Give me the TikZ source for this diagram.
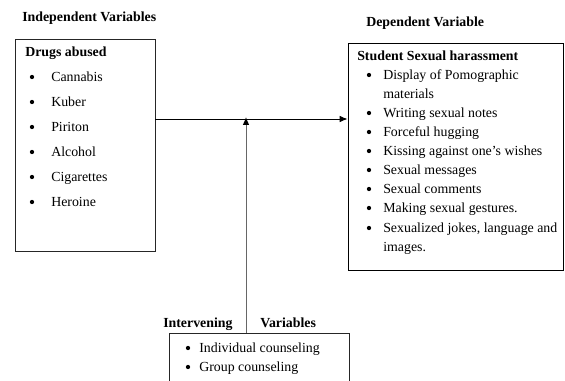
\documentclass[tikz,border=0pt]{standalone}
\usepackage{fontspec}
\setmainfont{Liberation Serif}
\usetikzlibrary{fit,arrows.meta}
\begin{document}
\begin{tikzpicture}[x=0.75pt,y=-0.75pt,
  box/.style={draw=black!85, line width=0.7pt, inner sep=0pt},
  txt/.style={anchor=base west, inner sep=0pt, font=\fontsize{10.4}{12}\selectfont},
  hd/.style={txt, font=\fontsize{10.4}{12}\selectfont\bfseries},
  bul/.style={anchor=center, inner sep=0pt, circle, fill=black, minimum size=3.2pt},
  conn/.style={line width=0.7pt, -{Latex[length=6pt,width=5pt,color=black]}}]
\useasboundingbox (0,0) rectangle (565,381);
% headings
\node[hd] (indep) at (22,22) {Independent Variables};
\node[hd] (dep) at (366,27) {Dependent Variable};
\node[hd] (interv1) at (163,328) {Intervening};
\node[hd] (interv2) at (260,328) {Variables};
% boxes
\node[box, fit={(15,39) (155,251)}] (L) {};
\node[box, draw=black, fit={(348,43) (563,270)}] (R) {};
\node[box, fit={(169,333) (349,390)}] (B) {};
% left box text
\node[hd] (lt) at (25,57) {Drugs abused};
\foreach \t [count=\i] in {Cannabis,Kuber,Piriton,Alcohol,Cigarettes,Heroine}{
  \node[bul] (lb\i) at (32,{52+25*\i}) {};
  \node[txt] (li\i) at (51,{56.5+25*\i}) {\t};
}
% right box text
\node[hd] (rt) at (357,60.5) {Student Sexual harassment};
\node[bul] (rb1) at (369,75) {};
\node[txt] (ri1) at (383,79.5) {Display of Pomographic};
\node[txt] (ri1b) at (383,98.5) {materials};
\node[bul] (rb2) at (369,113) {};
\node[txt] (ri2) at (383,117.5) {Writing sexual notes};
\node[bul] (rb3) at (369,132) {};
\node[txt] (ri3) at (383,136.5) {Forceful hugging};
\node[bul] (rb4) at (369,151) {};
\node[txt] (ri4) at (383,155.5) {Kissing against one’s wishes};
\node[bul] (rb5) at (369,170) {};
\node[txt] (ri5) at (383,174.5) {Sexual messages};
\node[bul] (rb6) at (369,189) {};
\node[txt] (ri6) at (383,193.5) {Sexual comments};
\node[bul] (rb7) at (369,208) {};
\node[txt] (ri7) at (383,212.5) {Making sexual gestures.};
\node[bul] (rb8) at (369,228) {};
\node[txt] (ri8) at (383,232.5) {Sexualized jokes, language and};
\node[txt] (ri8b) at (383,251.5) {images.};
% bottom box text
\node[bul] (bb1) at (188,348) {};
\node[txt] (bi1) at (199,352.5) {Individual counseling};
\node[bul] (bb2) at (188,367) {};
\node[txt] (bi2) at (199,371.5) {Group counseling};
% connectors
\coordinate (j) at (246,119);
\draw[conn] (L.east |- j) -- (R.west |- j);
\draw[conn, draw=black!60] (B.north -| j) -- ([yshift=1.5pt]j);
\end{tikzpicture}
\end{document}
